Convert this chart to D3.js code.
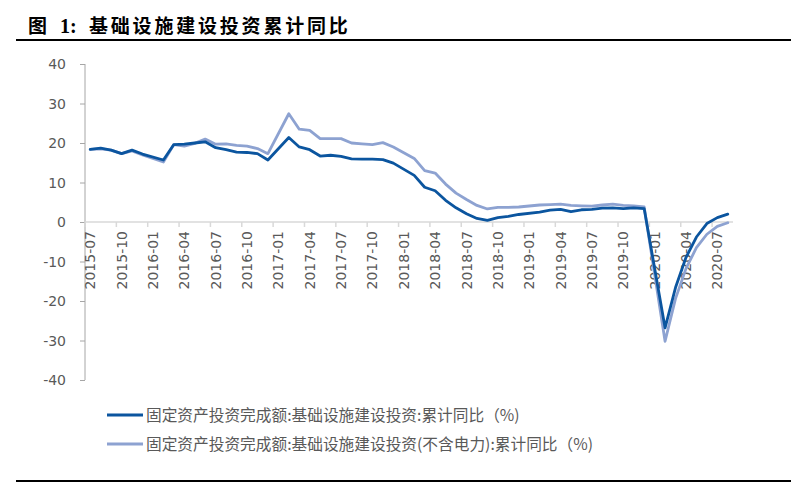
<!DOCTYPE html>
<html><head><meta charset="utf-8">
<script src="https://cdn.jsdelivr.net/npm/d3@7/dist/d3.min.js"></script>
<style>
html,body{margin:0;padding:0;background:#fff;}
svg{display:block;}
</style>
</head><body>
<svg id="chart" width="807" height="485"></svg>
<script>
// ---- data ----
const months = [
 "2015-07","2015-08","2015-09","2015-10","2015-11","2015-12",
 "2016-01","2016-02","2016-03","2016-04","2016-05","2016-06","2016-07","2016-08","2016-09","2016-10","2016-11","2016-12",
 "2017-01","2017-02","2017-03","2017-04","2017-05","2017-06","2017-07","2017-08","2017-09","2017-10","2017-11","2017-12",
 "2018-01","2018-02","2018-03","2018-04","2018-05","2018-06","2018-07","2018-08","2018-09","2018-10","2018-11","2018-12",
 "2019-01","2019-02","2019-03","2019-04","2019-05","2019-06","2019-07","2019-08","2019-09","2019-10","2019-11","2019-12",
 "2020-01","2020-02","2020-03","2020-04","2020-05","2020-06","2020-07","2020-08"
];
// 基础设施建设投资 累计同比 (January not published -> null)
const infraAll = [
 18.4,18.7,18.2,17.3,18.2,17.2,
 null,15.7,19.6,19.7,20.0,20.3,18.8,18.3,17.7,17.6,17.3,15.7,
 null,21.4,19.0,18.3,16.7,16.9,16.6,16.0,15.9,15.9,15.8,14.9,
 null,11.8,8.8,7.9,5.5,3.6,2.1,0.9,0.4,1.1,1.4,1.9,
 null,2.5,3.0,3.2,2.6,3.1,3.2,3.5,3.6,3.4,3.6,3.4,
 null,-26.8,-16.6,-9.0,-3.8,-0.4,1.1,2.0
];
// 基础设施建设投资(不含电力) 累计同比
const infraExPower = [
 18.4,18.5,18.2,17.3,18.0,17.0,
 null,15.2,19.6,19.2,19.9,21.0,19.7,19.8,19.4,19.2,18.6,17.3,
 null,27.4,23.5,23.2,21.1,21.1,21.1,20.0,19.8,19.6,20.1,19.0,
 null,16.1,13.0,12.4,9.6,7.3,5.7,4.2,3.3,3.7,3.7,3.8,
 null,4.3,4.4,4.5,4.2,4.1,4.0,4.3,4.5,4.2,4.1,3.8,
 null,-30.2,-19.4,-11.8,-6.5,-3.1,-1.1,-0.2
];
const yTicks = [-40,-30,-20,-10,0,10,20,30,40];
const seriesNames = [
 "固定资产投资完成额:基础设施建设投资:累计同比（%)",
 "固定资产投资完成额:基础设施建设投资(不含电力):累计同比（%)"
];
const seriesColors = ["#0B559F","#8DA2D1"];

(function(){
// ---- layout ----
const svg = d3.select("#chart");
const pl = 85, pr = 733, pt = 64, pb = 380;
const tickFont = "'DejaVu Sans', sans-serif";
const grey = "#595959";

const x = d3.scaleBand().domain(months).range([pl, pr]).paddingInner(0).paddingOuter(0);
const y = d3.scaleLinear().domain([-40, 40]).range([pb, pt]);

// title
const title = svg.append("text").attr("x", 28).attr("y", 33)
  .attr("font-size", 19).attr("font-weight", "bold").attr("fill", "#000");
title.append("tspan").attr("font-family", "'Noto Sans CJK SC'").text("图");
title.append("tspan").attr("x", 60).attr("font-family", "'Liberation Serif', serif").attr("font-size", 20).text("1:");
title.append("tspan").attr("x", 89).attr("font-family", "'Noto Sans CJK SC'").attr("letter-spacing", 2.8).text("基础设施建设投资累计同比");

svg.append("rect").attr("x", 16).attr("y", 39).attr("width", 775).attr("height", 2).attr("fill", "#000");
svg.append("rect").attr("x", 16).attr("y", 480).attr("width", 775).attr("height", 2).attr("fill", "#000");

// y axis
const yAxis = d3.axisLeft(y).tickValues(yTicks).tickSize(5).tickPadding(14).tickFormat(d3.format("d"));
const gy = svg.append("g").attr("transform", `translate(${pl},0)`).call(yAxis);
gy.select(".domain").attr("stroke", "#A6A6A6").attr("d", `M0,${pt}V${pb}`).attr("stroke-width", 1);
gy.selectAll(".tick line").attr("stroke", "#A6A6A6");
gy.selectAll(".tick text").attr("fill", grey).attr("font-size", 14).attr("font-family", tickFont).attr("dy", "0.35em");
gy.selectAll(".tick text").text(d => d < 0 ? "-" + Math.abs(d) : d);

// x axis (at y=0)
const y0 = y(0);
const labelMonths = months.filter((m, i) => i % 3 === 0);
const xAxis = d3.axisBottom(x).tickValues(labelMonths).tickSize(0).tickPadding(0);
const gx = svg.append("g").attr("transform", `translate(0,${y0})`).call(xAxis);
gx.select(".domain").attr("stroke", "#D9D9D9").attr("stroke-width", 1.5).attr("d", `M${pl},0H${pr}`);
gx.selectAll(".tick text")
  .attr("fill", grey).attr("font-size", 14).attr("font-family", tickFont)
  .attr("text-anchor", "end").attr("transform", "rotate(-90)")
  .attr("x", -9).attr("y", 0).attr("dy", "0.36em");
// boundary tick marks every 3 categories
svg.append("g").selectAll("line").data(labelMonths).join("line")
  .attr("x1", d => x(d)).attr("x2", d => x(d))
  .attr("y1", y0).attr("y2", y0 + 5)
  .attr("stroke", "#D9D9D9").attr("stroke-width", 1.5);

// lines
const line = d3.line().x(d => x(d.m) + x.bandwidth() / 2).y(d => y(d.v));
[infraExPower, infraAll].forEach((vals, k) => {
  const idx = k === 0 ? 1 : 0;
  const pts = months.map((m, i) => ({m, v: vals[i]})).filter(d => d.v !== null);
  svg.append("path").datum(pts).attr("d", line)
    .attr("fill", "none").attr("stroke", seriesColors[idx])
    .attr("stroke-width", 2.8).attr("stroke-linejoin", "round").attr("stroke-linecap", "round");
});

// legend
const legY = [415, 444];
seriesNames.forEach((name, i) => {
  svg.append("line").attr("x1", 107).attr("x2", 143).attr("y1", legY[i]).attr("y2", legY[i])
    .attr("stroke", seriesColors[i]).attr("stroke-width", 2.8);
  svg.append("text").attr("x", 146).attr("y", legY[i]).attr("dy", "0.36em")
    .attr("font-family", "'Noto Sans CJK SC', sans-serif").attr("font-size", 15.7)
    .attr("fill", grey).text(name);
});
})();
</script>
</body></html>
